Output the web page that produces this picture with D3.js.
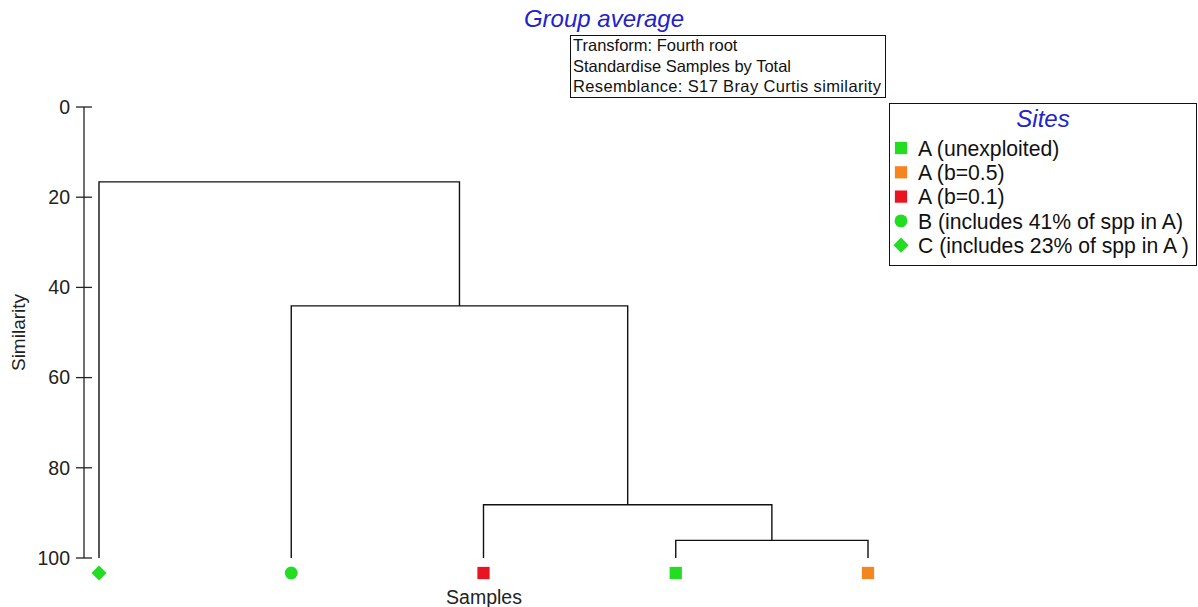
<!DOCTYPE html>
<html><head><meta charset="utf-8">
<script src="https://cdn.jsdelivr.net/npm/d3@7/dist/d3.min.js"></script>
<style>body{margin:0;background:#fff;}svg{display:block;font-family:"Liberation Sans",Arial,sans-serif;}</style>
</head><body>
<svg id="c" width="1198" height="607"></svg>
<script>
// Data
const leaves = ["C", "B", "A01", "AU", "A05"];
const leafShapes = ["diamond", "circle", "square", "square", "square"];
const leafColors = ["#22dd22", "#22dd22", "#e81420", "#22dd22", "#f5861f"];
// merges: [left node, right node, similarity]; nodes: leaf names or "m<i>"
const mergeLeft = ["AU", "A01", "B", "C"];
const mergeRight = ["A05", "m0", "m1", "m2"];
const mergeSim = [96.1, 88.2, 44.1, 16.6];
const yTicks = [0, 20, 40, 60, 80, 100];
const infoLines = ["Transform: Fourth root", "Standardise Samples by Total", "Resemblance: S17 Bray Curtis similarity"];
const legendLabels = ["A (unexploited)", "A (b=0.5)", "A (b=0.1)", "B (includes 41% of spp in A)", "C (includes 23% of spp in A )"];
const legendShapes = ["square", "square", "square", "circle", "diamond"];
const legendColors = ["#22dd22", "#f5861f", "#e81420", "#22dd22", "#22dd22"];

const svg = d3.select("#c");
const x = d3.scalePoint().domain(leaves).range([99, 868]);
const y = d3.scaleLinear().domain([0, 100]).range([107, 558]);

// axis
const axis = svg.append("g").attr("transform", "translate(84,0)");
axis.append("line").attr("x1", 0).attr("x2", 0).attr("y1", y(0)).attr("y2", y(100)).attr("stroke", "#222").attr("stroke-width", 1.3);
yTicks.forEach(t => {
  axis.append("line").attr("x1", -8).attr("x2", 8).attr("y1", y(t)).attr("y2", y(t)).attr("stroke", "#222").attr("stroke-width", 1.3);
  axis.append("text").attr("x", -14).attr("y", y(t)).attr("dy", "0.35em").attr("text-anchor", "end")
    .attr("font-size", 19.5).attr("fill", "#222").text(t);
});
svg.append("text").attr("transform", `translate(25,${y(50)}) rotate(-90)`).attr("text-anchor", "middle")
  .attr("font-size", 19).attr("fill", "#222").text("Similarity");
svg.append("text").attr("x", 484).attr("y", 604).attr("text-anchor", "middle").attr("font-size", 19.5).attr("fill", "#222").text("Samples");

// dendrogram
const pos = {};
leaves.forEach(l => pos[l] = {x: x(l), sim: 100});
const g = svg.append("g").attr("stroke", "#111").attr("stroke-width", 1.4).attr("fill", "none");
mergeSim.forEach((s, i) => {
  const a = pos[mergeLeft[i]], b = pos[mergeRight[i]];
  g.append("path").attr("d", `M${a.x},${y(a.sim)}V${y(s)}H${b.x}V${y(b.sim)}`);
  pos["m" + i] = {x: (a.x + b.x) / 2, sim: s};
});

function sym(shape) {
  if (shape === "circle") return d3.symbol(d3.symbolCircle, 130);
  if (shape === "diamond") return d3.symbol(d3.symbolSquare, 115);
  return d3.symbol(d3.symbolSquare, 150);
}
leaves.forEach((l, i) => {
  svg.append("path").attr("d", sym(leafShapes[i])())
    .attr("transform", `translate(${x(l)},573)` + (leafShapes[i] === "diamond" ? " rotate(45)" : ""))
    .attr("fill", leafColors[i]);
});

// title
svg.append("text").attr("x", 604).attr("y", 27).attr("text-anchor", "middle").attr("font-size", 24)
  .attr("font-style", "italic").attr("fill", "#2222cc").text("Group average");
// info box
svg.append("rect").attr("x", 570.5).attr("y", 35.5).attr("width", 315).attr("height", 62).attr("fill", "#fff").attr("stroke", "#111");
infoLines.forEach((t, i) => svg.append("text").attr("x", 573).attr("y", 51 + i * 20.5).attr("font-size", 16.5)
  .attr("textLength", i === 2 ? 308 : null).attr("fill", "#111").text(t));

// legend
const lg = svg.append("g");
lg.append("rect").attr("x", 889.5).attr("y", 103.5).attr("width", 307).attr("height", 162).attr("fill", "#fff").attr("stroke", "#111");
lg.append("text").attr("x", 1043).attr("y", 127).attr("text-anchor", "middle").attr("font-size", 24)
  .attr("font-style", "italic").attr("fill", "#2222cc").text("Sites");
legendLabels.forEach((t, i) => {
  const cy = 148 + i * 24.3;
  const shp = legendShapes[i];
  lg.append("path").attr("d", sym(shp)())
    .attr("transform", `translate(901,${cy})` + (shp === "diamond" ? " rotate(45)" : ""))
    .attr("fill", legendColors[i]);
  lg.append("text").attr("x", 918).attr("y", cy).attr("dy", "0.36em").attr("font-size", 21.2).attr("fill", "#111").text(t);
});
</script>
</body></html>
